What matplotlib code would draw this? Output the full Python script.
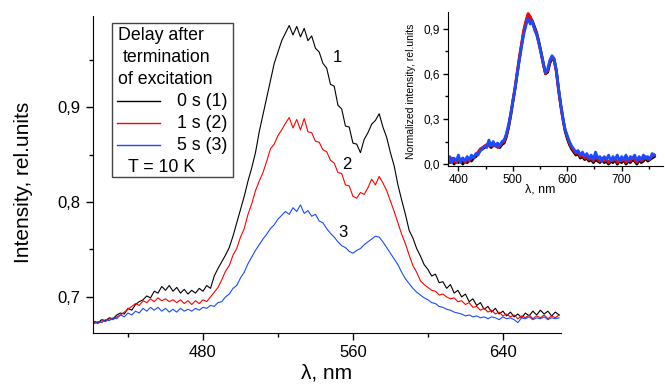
import numpy as np
import matplotlib
matplotlib.use("Agg")
import matplotlib.pyplot as plt
from matplotlib.ticker import MultipleLocator, FuncFormatter
from matplotlib.patches import Rectangle
from matplotlib.lines import Line2D

plt.rcParams["font.family"] = ["Liberation Sans", "DejaVu Sans"]

# main panel: 2 nm grid
lam_main = np.arange(422, 671, 2)

int_0s = [
    0.674, 0.673, 0.676, 0.675, 0.678, 0.677, 0.681, 0.683, 0.682, 0.688,
    0.686, 0.692, 0.695, 0.697, 0.701, 0.699, 0.706, 0.704, 0.711, 0.707,
    0.712, 0.706, 0.710, 0.704, 0.708, 0.703, 0.707, 0.704, 0.709, 0.706,
    0.712, 0.709, 0.722, 0.730, 0.737, 0.744, 0.752, 0.764, 0.778, 0.792,
    0.806, 0.822, 0.836, 0.852, 0.874, 0.892, 0.910, 0.928, 0.946, 0.958,
    0.970, 0.978, 0.986, 0.976, 0.985, 0.974, 0.983, 0.970, 0.975, 0.962,
    0.958, 0.946, 0.941, 0.924, 0.922, 0.902, 0.898, 0.880, 0.879, 0.862,
    0.861, 0.852, 0.866, 0.873, 0.882, 0.886, 0.893, 0.879, 0.868, 0.852,
    0.838, 0.818, 0.802, 0.787, 0.770, 0.762, 0.751, 0.743, 0.734, 0.729,
    0.722, 0.724, 0.715, 0.716, 0.709, 0.713, 0.704, 0.707, 0.700, 0.703,
    0.695, 0.698, 0.691, 0.694, 0.687, 0.690, 0.684, 0.688, 0.682, 0.685,
    0.680, 0.684, 0.679, 0.682, 0.678, 0.683, 0.680, 0.685, 0.681, 0.686,
    0.682, 0.685, 0.680, 0.684, 0.681,
]
int_1s = [
    0.673, 0.672, 0.675, 0.674, 0.677, 0.676, 0.679, 0.681, 0.684, 0.687,
    0.690, 0.693, 0.691, 0.696, 0.694, 0.698, 0.695, 0.699, 0.696, 0.698,
    0.695, 0.697, 0.694, 0.697, 0.693, 0.696, 0.692, 0.696, 0.693, 0.697,
    0.695, 0.700, 0.705, 0.710, 0.718, 0.727, 0.733, 0.744, 0.751, 0.763,
    0.772, 0.787, 0.798, 0.812, 0.822, 0.831, 0.843, 0.856, 0.861, 0.870,
    0.876, 0.883, 0.889, 0.878, 0.887, 0.876, 0.888, 0.874, 0.873, 0.864,
    0.863, 0.855, 0.853, 0.844, 0.841, 0.831, 0.830, 0.818, 0.817, 0.806,
    0.804, 0.810, 0.808, 0.815, 0.824, 0.818, 0.827, 0.820, 0.812, 0.801,
    0.790, 0.778, 0.766, 0.756, 0.744, 0.733, 0.726, 0.717, 0.713, 0.710,
    0.707, 0.706, 0.702, 0.703, 0.700, 0.698, 0.699, 0.695, 0.696, 0.692,
    0.694, 0.689, 0.690, 0.686, 0.688, 0.684, 0.686, 0.682, 0.684, 0.680,
    0.682, 0.679, 0.681, 0.677, 0.680, 0.678, 0.681, 0.677, 0.680, 0.678,
    0.681, 0.677, 0.680, 0.678, 0.681,
]
int_5s = [
    0.672, 0.674, 0.673, 0.676, 0.675, 0.678, 0.677, 0.681, 0.679, 0.683,
    0.681, 0.685, 0.683, 0.688, 0.685, 0.689, 0.686, 0.689, 0.685, 0.688,
    0.684, 0.687, 0.684, 0.688, 0.685, 0.687, 0.685, 0.688, 0.686, 0.689,
    0.688, 0.691, 0.690, 0.694, 0.695, 0.700, 0.703, 0.709, 0.712, 0.720,
    0.726, 0.735, 0.742, 0.749, 0.755, 0.761, 0.766, 0.772, 0.776, 0.782,
    0.786, 0.790, 0.787, 0.794, 0.790, 0.797, 0.788, 0.791, 0.785, 0.787,
    0.780, 0.778, 0.772, 0.767, 0.763, 0.758, 0.754, 0.752, 0.748, 0.746,
    0.749, 0.751, 0.755, 0.758, 0.761, 0.764, 0.763, 0.758, 0.752, 0.746,
    0.740, 0.734, 0.726, 0.719, 0.714, 0.709, 0.705, 0.702, 0.699, 0.697,
    0.694, 0.693, 0.690, 0.689, 0.687, 0.686, 0.684, 0.683, 0.682, 0.680,
    0.681, 0.679, 0.680, 0.678, 0.679, 0.677, 0.679, 0.678, 0.676, 0.679,
    0.677, 0.678, 0.676, 0.673, 0.678, 0.677, 0.679, 0.676, 0.678, 0.677,
    0.679, 0.676, 0.678, 0.677, 0.678,
]

# inset: normalized spectra, 4 nm grid
lam_inset = np.arange(380, 761, 4)

norm_0s = [
    0.02, 0.01, 0.03, 0.00, 0.02, 0.01, 0.03, 0.00, 0.02, 0.01,
    0.03, 0.02, 0.04, 0.05, 0.07, 0.09, 0.10, 0.11, 0.12, 0.13,
    0.11, 0.13, 0.12, 0.12, 0.11, 0.13,
    0.14, 0.18, 0.24, 0.32, 0.41, 0.50, 0.60, 0.70, 0.79, 0.88,
    0.94, 0.99, 0.97, 0.95, 0.91, 0.87, 0.81, 0.74, 0.67, 0.60,
    0.61, 0.67, 0.70, 0.69, 0.62,
    0.50, 0.39, 0.30, 0.22, 0.17, 0.13, 0.10, 0.08, 0.06, 0.07,
    0.04, 0.05, 0.03, 0.04, 0.02, 0.03, 0.01, 0.03, 0.02, 0.01,
    0.03, 0.01, 0.02, 0.00, 0.02,
    0.01, 0.03, 0.00, 0.02, 0.01, 0.03, 0.00, 0.02, 0.01, 0.03,
    0.02, 0.00, 0.03, 0.01, 0.02, 0.04, 0.02, 0.03, 0.04, 0.05,
]
norm_1s = [
    0.03, 0.01, 0.04, 0.02, 0.01, 0.03, 0.02, 0.04, 0.01, 0.03,
    0.02, 0.04, 0.05, 0.06, 0.08, 0.10, 0.11, 0.12, 0.13, 0.12,
    0.14, 0.12, 0.13, 0.11, 0.12, 0.14,
    0.15, 0.19, 0.25, 0.33, 0.42, 0.51, 0.61, 0.71, 0.80, 0.89,
    0.95, 1.00, 0.98, 0.94, 0.90, 0.86, 0.80, 0.73, 0.66, 0.60,
    0.62, 0.68, 0.71, 0.69, 0.61,
    0.49, 0.39, 0.30, 0.23, 0.18, 0.14, 0.11, 0.09, 0.07, 0.08,
    0.05, 0.06, 0.04, 0.05, 0.03, 0.04, 0.02, 0.05, 0.03, 0.02,
    0.04, 0.02, 0.03, 0.01, 0.03,
    0.02, 0.04, 0.01, 0.03, 0.02, 0.04, 0.01, 0.03, 0.02, 0.04,
    0.03, 0.01, 0.04, 0.02, 0.03, 0.05, 0.03, 0.04, 0.05, 0.06,
]
norm_5s = [
    0.03, 0.05, 0.01, 0.04, 0.02, 0.06, 0.01, 0.04, 0.02, 0.05,
    0.03, 0.06, 0.04, 0.07, 0.06, 0.09, 0.10, 0.12, 0.11, 0.16,
    0.12, 0.15, 0.12, 0.14, 0.12, 0.15,
    0.16, 0.20, 0.26, 0.33, 0.42, 0.50, 0.60, 0.69, 0.78, 0.86,
    0.92, 0.97, 0.93, 0.95, 0.89, 0.86, 0.80, 0.74, 0.67, 0.61,
    0.63, 0.69, 0.72, 0.70, 0.62,
    0.50, 0.40, 0.31, 0.23, 0.19, 0.15, 0.12, 0.10, 0.08, 0.09,
    0.06, 0.08, 0.05, 0.07, 0.04, 0.06, 0.03, 0.08, 0.04, 0.05,
    0.02, 0.05, 0.03, 0.06, 0.02,
    0.05, 0.03, 0.06, 0.02, 0.05, 0.03, 0.06, 0.02, 0.05, 0.04,
    0.06, 0.02, 0.05, 0.03, 0.06, 0.04, 0.05, 0.03, 0.07, 0.06,
]

series_labels = ["0 s (1)", "1 s (2)", "5 s (3)"]
curve_numbers = ["1", "2", "3"]
colors = ["black", "#ff0000", "#1a4cff"]


def commaFormatter(decimals):
    # decimal comma like the original
    return FuncFormatter(lambda v, _: f"{v:.{decimals}f}".replace(".", ","))


def styleAxes(ax, size_major, size_minor, labelsize, pad):
    for side in ("top", "right"):
        ax.spines[side].set_visible(False)
    ax.tick_params(which="major", direction="out", length=size_major, width=1,
                   labelsize=labelsize, pad=pad)
    ax.tick_params(which="minor", direction="out", length=size_minor, width=1)


fig = plt.figure(figsize=(6.65, 3.88), dpi=100)

# main panel
ax = fig.add_axes([0.1398, 0.1418, 0.7038, 0.817])
main_series = [int_0s, int_1s, int_5s]
for vals, col in zip(main_series, colors):
    ax.plot(lam_main, vals, color=col, lw=0.8)

ax.set_xlim(421.3, 671)
ax.set_ylim(0.662, 0.996)
ax.xaxis.set_major_locator(MultipleLocator(80))
ax.xaxis.set_minor_locator(MultipleLocator(40))
ax.yaxis.set_major_locator(MultipleLocator(0.1))
ax.yaxis.set_minor_locator(MultipleLocator(0.05))
ax.xaxis.set_major_formatter(FuncFormatter(lambda v, _: f"{v:.0f}"))
ax.yaxis.set_major_formatter(commaFormatter(1))
styleAxes(ax, 5, 3, 12, 4)
ax.set_xlabel("λ, nm", fontsize=15)
ax.set_ylabel("Intensity, rel.units", fontsize=15)
ax.xaxis.set_label_coords(0.5, -0.095)
ax.yaxis.set_label_coords(-0.128, 0.475)

# curve numbers
ax.text(551.5, 0.952, curve_numbers[0], fontsize=12, ha="center", va="center")
ax.text(556.8, 0.839, curve_numbers[1], fontsize=12, ha="center", va="center")
ax.text(554.7, 0.768, curve_numbers[2], fontsize=12, ha="center", va="center")

# legend box drawn by hand (pixel coords from top-left)
W, H = 665, 388


def fx(px):
    return px / W


def fy(py):
    return 1 - py / H


fig.patches.append(Rectangle((fx(112), fy(177)), fx(233) - fx(112), fy(23) - fy(177),
                             transform=fig.transFigure, facecolor="white",
                             edgecolor="#444444", lw=1, zorder=5))
fig.text(fx(118), fy(36), "Delay after", fontsize=12.8, va="center", zorder=6)
fig.text(fx(123), fy(58), "termination", fontsize=12.8, va="center", zorder=6)
fig.text(fx(118), fy(80), "of excitation", fontsize=12.8, va="center", zorder=6)
for i, (lab, col) in enumerate(zip(series_labels, colors)):
    y = 101 + i * 22
    fig.lines.append(Line2D([fx(117), fx(160)], [fy(y), fy(y)], color=col, lw=1,
                            transform=fig.transFigure, zorder=6))
    fig.text(fx(177), fy(y), lab, fontsize=12.8, va="center", zorder=6)
fig.text(fx(128), fy(167), "T = 10 K", fontsize=12.8, va="center", zorder=6)

# inset with normalized spectra
axi = fig.add_axes([0.673, 0.572, 0.324, 0.397])
for vals, col in zip([norm_0s, norm_1s, norm_5s], colors):
    axi.plot(lam_inset, vals, color=col, lw=2.0)
axi.set_xlim(380, 776)
axi.set_ylim(-0.013, 1.01)
axi.xaxis.set_major_locator(MultipleLocator(100))
axi.xaxis.set_minor_locator(MultipleLocator(50))
axi.yaxis.set_major_locator(MultipleLocator(0.3))
axi.yaxis.set_minor_locator(MultipleLocator(0.15))
axi.xaxis.set_major_formatter(FuncFormatter(lambda v, _: f"{v:.0f}"))
axi.yaxis.set_major_formatter(commaFormatter(1))
styleAxes(axi, 3.5, 2, 8.5, 2)
axi.set_xlabel("λ, nm", fontsize=9)
axi.set_ylabel("Normalized intensity, rel.units", fontsize=7.5)
axi.xaxis.set_label_coords(0.43, -0.11)
axi.yaxis.set_label_coords(-0.145, 0.484)

fig.savefig("out.png", dpi=100)
